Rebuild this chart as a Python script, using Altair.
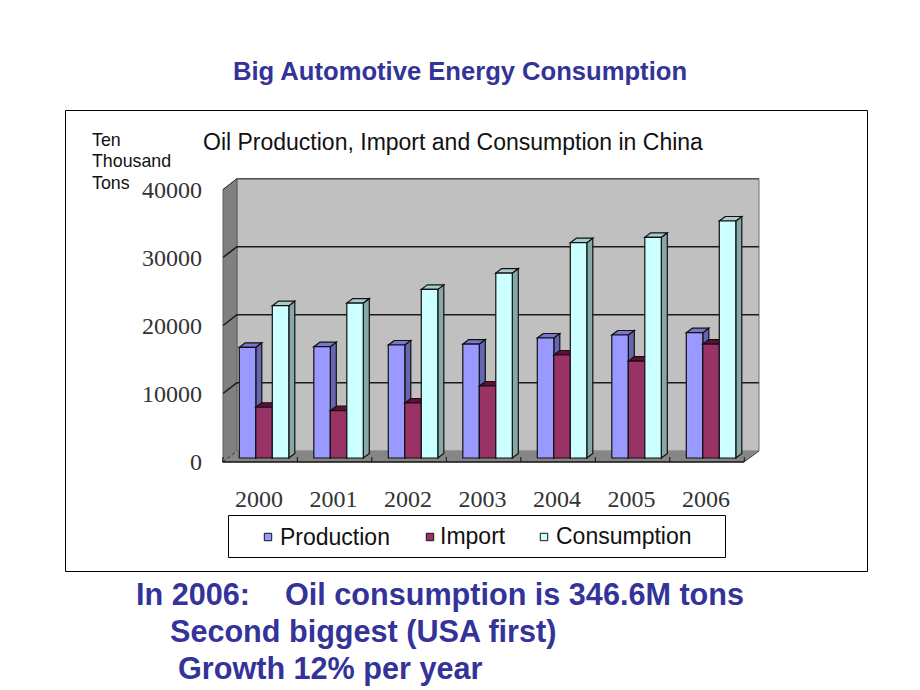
import altair as alt
import pandas as pd

years = [2000, 2001, 2002, 2003, 2004, 2005, 2006]
production = [16280, 16370, 16620, 16760, 17650, 18090, 18430]
imports = [7460, 6960, 8090, 10590, 15150, 14260, 16760]
consumption = [22400, 22790, 24800, 27200, 31660, 32450, 34850]
series_names = ["Production", "Import", "Consumption"]
y_ticks = [0, 10000, 20000, 30000, 40000]

W, H = 870, 680
PX_PER_YEAR = 74.5
PX_PER_UNIT = 0.0068
X0_PX, Y0_PX = 239.3, 458.0  # page position of 2000 / value 0 in the bar plane


def X(px):
    return 2000 + (px - X0_PX) / PX_PER_YEAR


def Y(py):
    return (Y0_PX - py) / PX_PER_UNIT


xs = alt.Scale(domain=[X(8), X(8 + W)], range=[0, W], nice=False, zero=False)
ys = alt.Scale(domain=[Y(8 + H), Y(8)], range=[H, 0], nice=False, zero=False)
ex = alt.X("x:Q", scale=xs, axis=None)
ey = alt.Y("y:Q", scale=ys, axis=None)


def rect(x1, y1, x2, y2, fill, stroke=None, sw=1):
    d = pd.DataFrame([dict(x=X(x1), x2=X(x2), y=Y(y1), y2=Y(y2))])
    kw = dict(fill=fill)
    if stroke:
        kw.update(stroke=stroke, strokeWidth=sw)
    return alt.Chart(d).mark_rect(**kw).encode(ex, x2="x2:Q", y=ey, y2="y2:Q")


def rules(segs, color="#1a1a1a", sw=1.5, dash=None):
    d = pd.DataFrame([dict(x=X(a), y=Y(b), x2=X(c), y2=Y(e)) for a, b, c, e in segs])
    kw = dict(color=color, strokeWidth=sw)
    if dash:
        kw["strokeDash"] = dash
    return alt.Chart(d).mark_rule(**kw).encode(ex, x2="x2:Q", y=ey, y2="y2:Q")


def text(s, px, py, size, color="#000000", font="Liberation Sans", weight="normal", align="left"):
    d = pd.DataFrame([dict(x=X(px), y=Y(py), t=s)])
    return alt.Chart(d).mark_text(
        fontSize=size, color=color, font=font, fontWeight=weight, align=align, baseline="alphabetic"
    ).encode(ex, y=ey, text="t:N")


def v_poly(pts, fill, stroke=None):
    """vertical-orient area: pts = (x, ytop, ybottom) in page px"""
    d = pd.DataFrame([dict(x=X(a), y=Y(b), y2=Y(c)) for a, b, c in pts])
    kw = dict(fill=fill, orient="vertical", opacity=1)
    if stroke:
        kw.update(stroke=stroke, strokeWidth=1)
    return alt.Chart(d).mark_area(**kw).encode(ex, y=ey, y2="y2:Q")


def h_poly(pts, fill):
    """horizontal-orient area: pts = (y, xleft, xright) in page px"""
    d = pd.DataFrame([dict(y=Y(a), x=X(b), x2=X(c)) for a, b, c in pts])
    return alt.Chart(d).mark_area(fill=fill, orient="horizontal", opacity=1).encode(
        y=ey, x=ex, x2="x2:Q"
    )


# 3-D bar geometry, in data units
BAR_W = 16.5 / PX_PER_YEAR
DEPTH_X = 6.0 / PX_PER_YEAR
DEPTH_V = 4.5 / PX_PER_UNIT


def bar_layers(values, idx, front, side, top):
    fr, si, to = [], [], []
    for yr, v in zip(years, values):
        a = yr + idx * BAR_W
        b = a + BAR_W
        g = f"{yr}"
        fr.append(dict(x=a, x2=b, y=0, y2=v))
        si += [dict(g=g, x=b, y=v, y2=0), dict(g=g, x=b + DEPTH_X, y=v + DEPTH_V, y2=DEPTH_V)]
        to += [dict(g=g, y=v, x=a, x2=b), dict(g=g, y=v + DEPTH_V, x=a + DEPTH_X, x2=b + DEPTH_X)]
    stroke = dict(stroke="#111111", strokeWidth=1.2, opacity=1)
    side_l = alt.Chart(pd.DataFrame(si)).mark_area(fill=side, orient="vertical", **stroke).encode(
        ex, y=ey, y2="y2:Q", detail="g:N")
    top_l = alt.Chart(pd.DataFrame(to)).mark_area(fill=top, orient="horizontal", **stroke).encode(
        y=ey, x=ex, x2="x2:Q", detail="g:N")
    front_l = alt.Chart(pd.DataFrame(fr)).mark_rect(fill=front, stroke="#111111", strokeWidth=1.2).encode(
        ex, x2="x2:Q", y=ey, y2="y2:Q")
    return [side_l, top_l, front_l]


layers = []
# panel frame
layers.append(rect(65.5, 110.5, 867.5, 571.5, "#ffffff", "#000000", 1))

# walls and floor
layers.append(rect(237, 178.7, 759, 451, "#c0c0c0", "#707070", 1))
layers.append(v_poly([(223, 189.5, 462), (237, 178.7, 451)], "#808080", "#606060"))
layers.append(h_poly([(462, 223, 744), (451, 237, 759)], "#868686"))

# grid lines on back and left walls
grid_py = [246.7, 314.7, 382.7]
layers.append(rules([(237, p, 759, p) for p in grid_py]))
layers.append(rules([(223, p + 10.8, 237, p) for p in grid_py]))
layers.append(rules([(223, 189.5, 237, 178.7)], color="#333333", sw=1))
layers.append(rules([(237, 178.7, 759, 178.7)], color="#555555", sw=1.5))
layers.append(rules([(223, 462, 237, 451)], color="#333333", sw=1, dash=[3, 3]))
layers.append(rules([(744, 462, 759, 451)], color="#444444", sw=1))

# bars
layers += bar_layers(production, 0, "#9999ff", "#6666b0", "#7777cc")
layers += bar_layers(imports, 1, "#993366", "#6e2148", "#660a38")
layers += bar_layers(consumption, 2, "#ccffff", "#86a8a8", "#a8cccc")

# front floor edge and ticks
layers.append(rules([(222.5, 462, 744, 462)], color="#111111", sw=1.5))
tick_x = [X0_PX - 16.5 + PX_PER_YEAR * i for i in range(8)]
layers.append(rules([(t, 462, t, 457) for t in tick_x], color="#111111", sw=1))

# axis labels
for v in y_ticks:
    py = 462 - v * PX_PER_UNIT + 8
    layers.append(text(str(v), 202, py, 24, color="#333333", font="Liberation Serif", align="right"))
for i, yr in enumerate(years):
    px = 259 + i * PX_PER_YEAR
    layers.append(text(str(yr), px, 507, 24, color="#333333", font="Liberation Serif", align="center"))

# chart captions
layers.append(text("Oil Production, Import and Consumption in China", 203, 150, 23, color="#111111"))
for s, py in zip(["Ten", "Thousand", "Tons"], [146, 167, 189]):
    layers.append(text(s, 92, py, 17.8, color="#111111"))

# legend
layers.append(rect(228.5, 515.5, 725.5, 557.5, "#ffffff", "#000000", 1))
legend_colors = ["#9999ff", "#993366", "#ccffff"]
legend_sym = [268, 430, 544]
legend_txt = [280, 440, 556]
legend_base = [545, 544, 544]
for name, c, sx, tx, b in zip(series_names, legend_colors, legend_sym, legend_txt, legend_base):
    d = pd.DataFrame([dict(x=X(sx), y=Y(537))])
    layers.append(alt.Chart(d).mark_point(shape="square", filled=True, size=55, fill=c, stroke="#111111",
                                          strokeWidth=1, opacity=1).encode(ex, y=ey))
    layers.append(text(name, tx, b, 23, color="#111111"))

# slide text
BLUE = "#333399"
layers.append(text("Big Automotive Energy Consumption", 460, 79.5, 25.6, color=BLUE, weight="bold", align="center"))
layers.append(text("In 2006:", 136, 605, 30.6, color=BLUE, weight="bold"))
layers.append(text("Oil consumption is 346.6M tons", 285, 605, 30.6, color=BLUE, weight="bold"))
layers.append(text("Second biggest (USA first)", 170, 642, 30.6, color=BLUE, weight="bold"))
layers.append(text("Growth 12% per year", 178, 679, 30.6, color=BLUE, weight="bold"))

chart = alt.layer(*layers).properties(
    width=W, height=H, background="#ffffff", padding=0,
    autosize=alt.AutoSizeParams(type="none"),
).configure_view(stroke=None)

chart.save("out.html", embed_options={"renderer": "svg", "actions": False})
